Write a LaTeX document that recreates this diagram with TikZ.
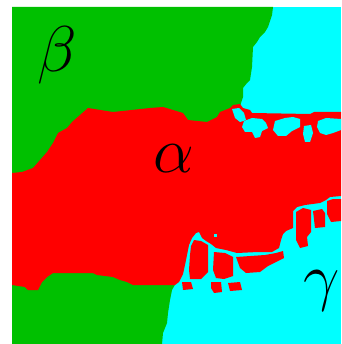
\documentclass[tikz,border=0pt]{standalone}
\usepackage{graphicx}
\definecolor{grn}{RGB}{0,192,0}
\definecolor{rd}{RGB}{255,0,0}
\definecolor{cyn}{RGB}{0,255,255}
\newcommand{\biglbl}[1]{\scalebox{2.6}{\Huge$#1$}}
\begin{document}
\begin{tikzpicture}[x=1pt,y=-1pt,
  lbl/.style={inner sep=0pt, text=black},
  redfill/.style={fill=rd},
  cyanfill/.style={fill=cyn},
  greenfill/.style={fill=grn}]
\useasboundingbox (0,0) rectangle (341,344);
\fill[white] (0,0) rectangle (341,344);
% background: gamma phase
\fill[cyanfill] (12,7) rectangle (341,344);
% beta phase, top
\fill[greenfill] (12,7) -- (273,7) -- (272,15) -- (268,27) -- (265,32) -- (260,37) -- (257,42) -- (253,47) -- (252,67) -- (250,80) -- (247,83) -- (243,88) -- (243,97) -- (241,103) -- (240,107) -- (200,140) -- (12,200) -- cycle;
% beta phase, bottom
\fill[greenfill] (12,260) -- (174,270) -- (176,283) -- (172,290) -- (170,300) -- (168,313) -- (167,323) -- (165,328) -- (163,333) -- (162,344) -- (12,344) -- cycle;
% alpha phase, main body
\fill[redfill] (12,173) -- (22,172) -- (33,168) -- (40,160) -- (47,152) -- (53,143) -- (58,133) -- (67,128) -- (72,122) -- (80,115) -- (88,108) -- (113,112) -- (150,108) -- (163,107) -- (183,113) -- (188,120) -- (207,122) -- (217,117) -- (220,112) -- (230,108) -- (233,105) -- (240,104) -- (243,108) -- (250,110) -- (252,113) -- (310,114) -- (314,112) -- (341,112)
  -- (341,196) -- (330,197) -- (326,200) -- (320,203) -- (305,205) -- (297,207) -- (293,211) -- (293,228) -- (286,231) -- (283,234) -- (281,240) -- (279,248) -- (272,252) -- (258,252) -- (237,253) -- (226,250) -- (216,248) -- (211,244) -- (206,241) -- (202,238) -- (199,232) -- (196,233) -- (192,238) -- (189,245) -- (187,255) -- (185,265) -- (183,274) -- (179,282) -- (175,285)
  -- (167,285) -- (133,285) -- (127,282) -- (120,280) -- (113,277) -- (97,275) -- (93,273) -- (53,273) -- (47,277) -- (42,282) -- (38,290) -- (28,290) -- (25,287) -- (12,285) -- cycle;
% alpha blobs in the gamma phase
\fill[redfill] (327,201) -- (333,199) -- (341,199) -- (341,221) -- (331,222) -- (327,214) -- cycle;
\fill[redfill] (313,211) -- (322,209) -- (325,213) -- (325,227) -- (315,228) -- cycle;
\fill[redfill] (296,212) -- (303,208) -- (311,210) -- (311,232) -- (307,237) -- (308,246) -- (300,248) -- (296,240) -- cycle;
\fill[redfill] (236,257) -- (265,255) -- (276,253) -- (283,251) -- (284,258) -- (276,262) -- (268,266) -- (260,272) -- (246,273) -- (240,268) -- cycle;
\fill[redfill] (214,252) -- (225,253) -- (233,257) -- (233,276) -- (224,279) -- (216,278) -- (213,270) -- cycle;
\fill[redfill] (194,240) -- (201,241) -- (208,245) -- (208,272) -- (201,279) -- (190,279) -- (189,270) -- (190,255) -- (191,246) -- cycle;
\fill[redfill] (182,282) -- (191,282) -- (193,289) -- (183,290) -- cycle;
\fill[redfill] (211,282) -- (221,282) -- (222,292) -- (214,293) -- (211,288) -- cycle;
\fill[redfill] (228,283) -- (240,282) -- (242,290) -- (230,291) -- cycle;
% gamma islands in the alpha phase
\fill[cyanfill] (232,109) -- (239,108) -- (244,113) -- (246,120) -- (240,122) -- (235,118) -- cycle;
\fill[cyanfill] (244,121) -- (252,118) -- (262,119) -- (266,123) -- (268,128) -- (262,131) -- (260,137) -- (255,138) -- (252,132) -- (245,132) -- (242,127) -- cycle;
\fill[cyanfill] (275,121) -- (285,118) -- (293,117) -- (300,119) -- (300,127) -- (292,131) -- (286,136) -- (278,136) -- (273,130) -- cycle;
\fill[cyanfill] (304,126) -- (311,125) -- (313,133) -- (310,142) -- (305,142) -- (303,134) -- cycle;
\fill[cyanfill] (318,121) -- (326,118) -- (341,119) -- (341,130) -- (333,133) -- (326,135) -- (320,133) -- (317,127) -- cycle;
\fill[cyanfill] (214,234) rectangle (217,237);
% labels
\node[lbl] (beta) at (57,55) {\biglbl{\beta}};
\node[lbl] (alpha) at (174,159) {\biglbl{\alpha}};
\node[lbl] (gamma) at (322,291) {\biglbl{\gamma}};
\end{tikzpicture}
\end{document}
